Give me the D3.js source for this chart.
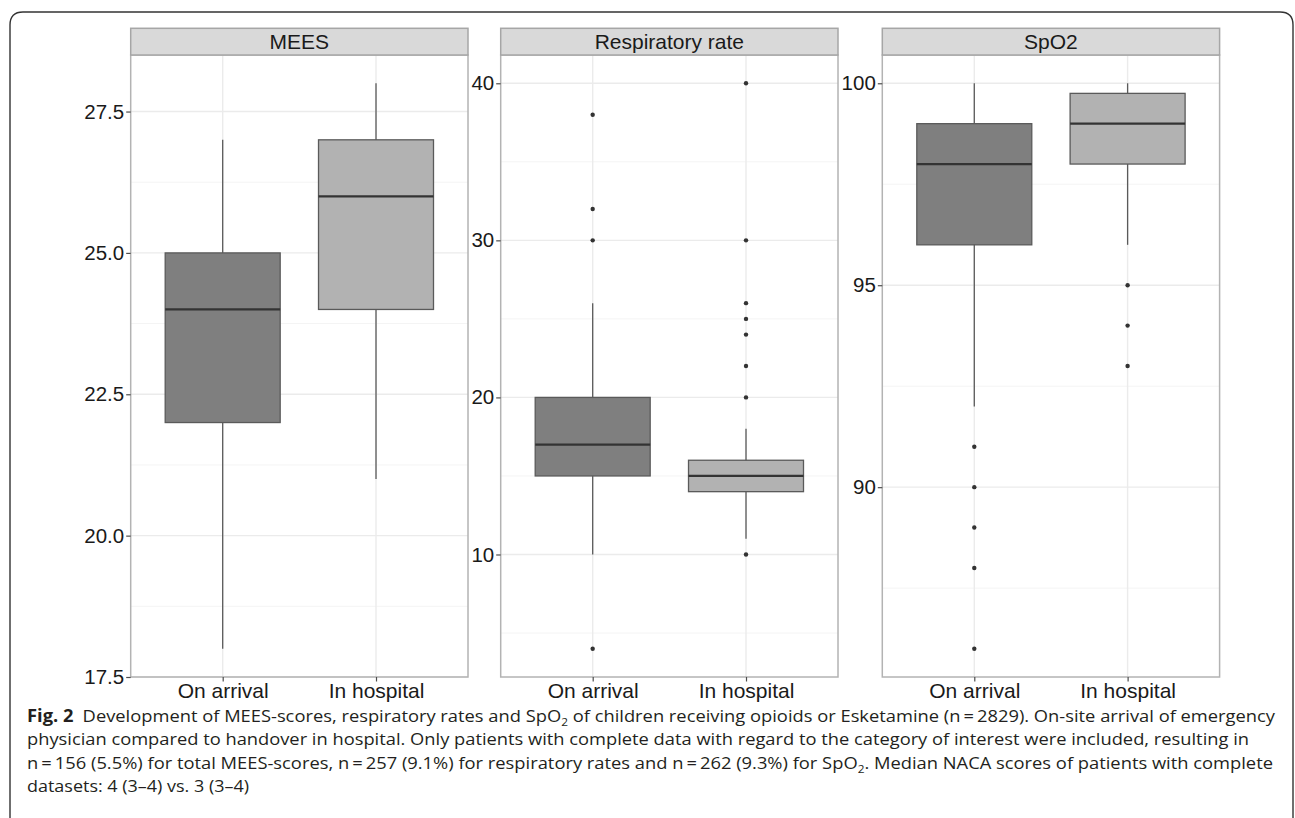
<!DOCTYPE html>
<html>
<head>
<meta charset="utf-8">
<script src="https://cdn.jsdelivr.net/npm/d3@7/dist/d3.min.js"></script>
<style>
    body { margin: 0; background: #fff; }
    svg { display: block; }
</style>
</head>
<body>
<script>
// facet titles and the two time points
let panelNames = ["MEES", "Respiratory rate", "SpO2"];
let groups = ["On arrival", "In hospital"];

// box statistics per panel: [On arrival, In hospital]
let lowWhisker  = [[18, 21], [10, 11], [92, 96]];
let lowerQ      = [[22, 24], [15, 14], [96, 98]];
let medians     = [[24, 26], [17, 15], [98, 99]];
let upperQ      = [[25, 27], [20, 16], [99, 99.75]];
let highWhisker = [[27, 28], [26, 18], [100, 100]];
let outliers = [
    [[], []],
    [[38, 32, 30, 4], [40, 30, 26, 25, 24, 22, 20, 10]],
    [[91, 90, 89, 88, 86], [95, 94, 93]]
];

// y axis breaks per panel
let yTicks = [[17.5, 20, 22.5, 25, 27.5], [10, 20, 30, 40], [90, 95, 100]];
let tickFormats = [".1f", "d", "d"];

let fills = ["#7f7f7f", "#b2b2b2"];

let width = 1295, height = 818;
let svg = d3.select("body").append("svg")
    .attr("width", width)
    .attr("height", height);

// outer frame of the figure (open at the bottom)
let r = 13, fx0 = 10, fy0 = 12, fx1 = 1293;
svg.append("path")
    .attr("d", "M" + fx0 + "," + (height + 5) + "V" + (fy0 + r) +
        "Q" + fx0 + "," + fy0 + " " + (fx0 + r) + "," + fy0 +
        "H" + (fx1 - r) + "Q" + fx1 + "," + fy0 + " " + fx1 + "," + (fy0 + r) +
        "V" + (height + 5))
    .style("fill", "none")
    .style("stroke", "#333")
    .style("stroke-width", 1.4);

// panel layout
let panelLeft = [130.7, 500.7, 882.3];
let panelW = 337.3;
let stripTop = 28.3, plotTop = 55, plotBottom = 677;

panelNames.forEach((name, p) => {
    let x0 = panelLeft[p], x1 = x0 + panelW;

    // ggplot style 5% expansion of the data range
    let all = d3.merge([lowWhisker[p], highWhisker[p], outliers[p][0], outliers[p][1]]);
    let lo = d3.min(all), hi = d3.max(all);
    let pad = (hi - lo) * 0.05;

    let y = d3.scaleLinear()
        .domain([lo - pad, hi + pad])
        .range([plotBottom, plotTop]);

    let x = d3.scalePoint()
        .domain(groups)
        .range([x0, x1])
        .padding(0.6);
    let boxW = x.step() * 0.75;

    let g = svg.append("g").attr("class", "panel");

    // minor grid lines half way between the breaks
    let ticks = yTicks[p];
    let step = ticks[1] - ticks[0];
    let minor = [ticks[0] - step / 2].concat(ticks.map(t => t + step / 2))
        .filter(v => v > y.domain()[0] && v < y.domain()[1]);

    g.selectAll(".minor")
        .data(minor).enter()
        .append("line")
        .attr("x1", x0).attr("x2", x1)
        .attr("y1", d => y(d)).attr("y2", d => y(d))
        .style("stroke", "#f4f4f4")
        .style("stroke-width", 1);

    g.selectAll(".major")
        .data(ticks).enter()
        .append("line")
        .attr("x1", x0).attr("x2", x1)
        .attr("y1", d => y(d)).attr("y2", d => y(d))
        .style("stroke", "#ebebeb")
        .style("stroke-width", 1.4);

    g.selectAll(".vgrid")
        .data(groups).enter()
        .append("line")
        .attr("x1", d => x(d)).attr("x2", d => x(d))
        .attr("y1", plotTop).attr("y2", plotBottom)
        .style("stroke", "#ebebeb")
        .style("stroke-width", 1.4);

    // whiskers
    g.selectAll(".whisker")
        .data(groups).enter()
        .append("line")
        .attr("x1", d => x(d)).attr("x2", d => x(d))
        .attr("y1", (d, i) => y(lowWhisker[p][i]))
        .attr("y2", (d, i) => y(highWhisker[p][i]))
        .style("stroke", "#5a5a5a")
        .style("stroke-width", 1.3);

    // boxes
    g.selectAll(".box")
        .data(groups).enter()
        .append("rect")
        .attr("x", d => x(d) - boxW / 2)
        .attr("width", boxW)
        .attr("y", (d, i) => y(upperQ[p][i]))
        .attr("height", (d, i) => y(lowerQ[p][i]) - y(upperQ[p][i]))
        .style("fill", (d, i) => fills[i])
        .style("stroke", "#5a5a5a")
        .style("stroke-width", 1.3);

    // medians
    g.selectAll(".median")
        .data(groups).enter()
        .append("line")
        .attr("x1", d => x(d) - boxW / 2).attr("x2", d => x(d) + boxW / 2)
        .attr("y1", (d, i) => y(medians[p][i]))
        .attr("y2", (d, i) => y(medians[p][i]))
        .style("stroke", "#333")
        .style("stroke-width", 2.2);

    // outlying points
    let pts = [];
    groups.forEach((grp, i) => outliers[p][i].forEach(v => pts.push({grp: grp, v: v})));
    g.selectAll(".outlier")
        .data(pts).enter()
        .append("circle")
        .attr("cx", d => x(d.grp))
        .attr("cy", d => y(d.v))
        .attr("r", 2.2)
        .style("fill", "#333");

    // panel border
    g.append("rect")
        .attr("x", x0).attr("y", plotTop)
        .attr("width", panelW).attr("height", plotBottom - plotTop)
        .style("fill", "none")
        .style("stroke", "#b3b3b3")
        .style("stroke-width", 1.5);

    // strip on top
    g.append("rect")
        .attr("x", x0).attr("y", stripTop)
        .attr("width", panelW).attr("height", plotTop - stripTop)
        .style("fill", "#d9d9d9")
        .style("stroke", "#a6a6a6")
        .style("stroke-width", 1.5);
    g.append("text")
        .attr("x", (x0 + x1) / 2)
        .attr("y", (stripTop + plotTop) / 2)
        .attr("dy", "0.36em")
        .style("text-anchor", "middle")
        .style("font-family", "'Liberation Sans', Arial, sans-serif")
        .style("font-size", "21px")
        .style("fill", "#1a1a1a")
        .text(name);

    // axes
    let yAxis = d3.axisLeft(y)
        .tickValues(ticks)
        .tickFormat(d3.format(tickFormats[p]))
        .tickSize(4.5)
        .tickPadding(2);
    let ya = g.append("g")
        .attr("transform", "translate(" + x0 + ",0)")
        .call(yAxis);

    let xAxis = d3.axisBottom(x)
        .tickSize(4.5)
        .tickPadding(2);
    let xa = g.append("g")
        .attr("transform", "translate(0," + plotBottom + ")")
        .call(xAxis);

    [ya, xa].forEach((a, k) => {
        a.select(".domain").remove();
        a.selectAll(".tick line").style("stroke", "#4d4d4d").style("stroke-width", 1.2);
        a.selectAll(".tick text")
            .style("font-family", "'Liberation Sans', Arial, sans-serif")
            .style("font-size", k === 0 ? "20.5px" : "21px")
            .style("fill", "#1a1a1a");
    });
});

/////////////// Caption //////////////////
let capFont = "'Open Sans', 'Noto Sans', sans-serif";
let capX = 27, capY = 722, lineH = 23.3;
let capLines = [
    [{b: "Fig. 2"}, {t: "\u2002Development of MEES-scores, respiratory rates and SpO"}, {s: "2"},
     {t: " of children receiving opioids or Esketamine (n\u2009=\u20092829). On-site arrival of emergency"}],
    [{t: "physician compared to handover in hospital. Only patients with complete data with regard to the category of interest were included, resulting in"}],
    [{t: "n\u2009=\u2009156 (5.5%) for total MEES-scores, n\u2009=\u2009257 (9.1%) for respiratory rates and n\u2009=\u2009262 (9.3%) for SpO"}, {s: "2"},
     {t: ". Median NACA scores of patients with complete"}],
    [{t: "datasets: 4 (3\u20134) vs. 3 (3\u20134)"}]
];
let capWidths = [1248, 1222, 1246, 222];

capLines.forEach((parts, i) => {
    let txt = svg.append("text")
        .attr("x", capX)
        .attr("y", capY + i * lineH)
        .style("font-family", capFont)
        .style("font-size", "17px")
        .style("fill", "#231f20");
    parts.forEach((pt, j) => {
        if (pt.b) txt.append("tspan").style("font-weight", 700).text(pt.b);
        else if (pt.s) txt.append("tspan").attr("dy", 4).style("font-size", "11px").text(pt.s);
        else {
            let ts = txt.append("tspan").text(pt.t);
            // undo the subscript shift
            if (j > 0 && parts[j - 1].s) ts.attr("dy", -4);
        }
    });
    txt.attr("textLength", capWidths[i]).attr("lengthAdjust", "spacingAndGlyphs");
});
</script>
</body>
</html>
